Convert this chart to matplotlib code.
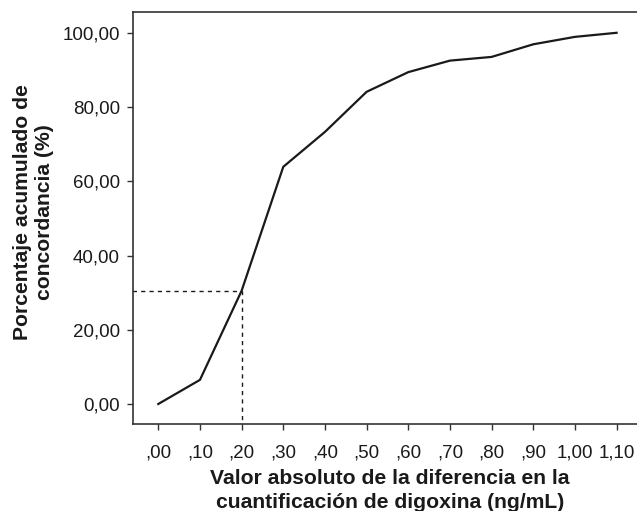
import matplotlib
matplotlib.use("Agg")
import matplotlib.pyplot as plt

x_vals = [0.0, 0.1, 0.2, 0.3, 0.4, 0.5, 0.6, 0.7, 0.8, 0.9, 1.0, 1.1]
y_vals = [0.0, 6.5, 30.5, 63.9, 73.3, 84.1, 89.4, 92.5, 93.5, 96.9, 98.9, 100.0]
x_ticklabels = [",00", ",10", ",20", ",30", ",40", ",50", ",60", ",70", ",80", ",90", "1,00", "1,10"]
y_ticks = [0, 20, 40, 60, 80, 100]
y_ticklabels = ["0,00", "20,00", "40,00", "60,00", "80,00", "100,00"]
ref_x = 0.2
ref_y = 30.5

plt.rcParams['font.family'] = ['Liberation Sans', 'DejaVu Sans']

fig = plt.figure(figsize=(6.37, 5.11), dpi=100)
ax = fig.add_axes([133/637, 1 - 424/511, 1 - 133/637, (424 - 12)/511])

ax.plot(x_vals, y_vals, color="#1a1a1a", lw=1.6, solid_joinstyle="round")
ax.plot([-1, ref_x], [ref_y, ref_y], color="#1a1a1a", lw=1.0, ls=(0, (3, 3)))
ax.plot([ref_x, ref_x], [-20, ref_y], color="#1a1a1a", lw=1.0, ls=(0, (3, 3)))

ax.set_xlim(-0.0607, 1.149)
ax.set_ylim(-5.39, 105.6)
ax.set_xticks(x_vals)
ax.set_xticklabels(x_ticklabels)
ax.set_yticks(y_ticks)
ax.set_yticklabels(y_ticklabels)
ax.tick_params(labelsize=13.5, length=4.5, width=1.0, color="#333333", labelcolor="#1a1a1a")
ax.tick_params(axis='x', pad=10)
ax.tick_params(axis='y', pad=5)
ax.spines['right'].set_visible(False)
for s in ['left', 'bottom', 'top']:
    ax.spines[s].set_linewidth(1.2)
    ax.spines[s].set_color("#333333")

ax.set_xlabel("Valor absoluto de la diferencia en la\ncuantificación de digoxina (ng/mL)",
              fontsize=15.2, fontweight="bold", color="#1a1a1a", linespacing=1.3)
ax.set_ylabel("Porcentaje acumulado de\nconcordancia (%)",
              fontsize=15.2, fontweight="bold", color="#1a1a1a", linespacing=1.2)
ax.xaxis.set_label_coords((390 - 133) / 504, (424 - 469) / 412)
ax.yaxis.set_label_coords((54 - 133) / 504, (424 - 212) / 412)

fig.savefig("out.png", dpi=100)
